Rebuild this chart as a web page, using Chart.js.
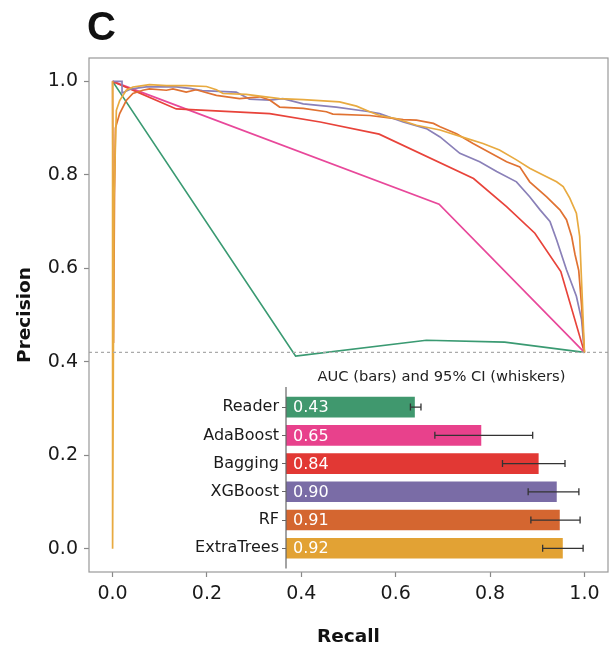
<!DOCTYPE html>
<html>
<head>
<meta charset="utf-8">
<script src="https://cdn.jsdelivr.net/npm/chart.js@4"></script>
<style>
  body { margin: 0; background: #fff; }
  #wrap { position: relative; width: 613px; height: 657px; }
  #prChart { position: absolute; left: 0; top: 0; }
  #aucChart { position: absolute; left: 180px; top: 360px; }
</style>
</head>
<body>
<div id="wrap">
  <canvas id="prChart" width="613" height="657"></canvas>
  <canvas id="aucChart" width="420" height="215"></canvas>
</div>
<script>
const models = ['Reader', 'AdaBoost', 'Bagging', 'XGBoost', 'RF', 'ExtraTrees'];
const aucValues = [0.43, 0.65, 0.84, 0.90, 0.91, 0.92];
const ciLow = [0.412, 0.493, 0.717, 0.802, 0.811, 0.850];
const ciHigh = [0.447, 0.817, 0.924, 0.970, 0.974, 0.984];
const baseline = 0.42;
const xTicks = [0, 0.2, 0.4, 0.6, 0.8, 1.0];
const yTicks = [0, 0.2, 0.4, 0.6, 0.8, 1.0];

const recallReader = [0, 0.388, 0.665, 0.831, 1.0];
const precisionReader = [1.0, 0.412, 0.446, 0.442, 0.42];

const recallAda = [0, 0.692, 1.0];
const precisionAda = [1.0, 0.737, 0.42];

const recallBagging = [0, 0.135, 0.333, 0.44, 0.565, 0.765, 0.835, 0.895, 0.95, 1.0];
const precisionBagging = [1.0, 0.941, 0.931, 0.913, 0.887, 0.792, 0.732, 0.675, 0.593, 0.42];

const recallXgb = [0, 0.02, 0.02, 0.04, 0.071, 0.135, 0.163, 0.19, 0.262, 0.29, 0.333, 0.361, 0.404, 0.474,
  0.545, 0.566, 0.616, 0.665, 0.694, 0.736, 0.778, 0.814, 0.856, 0.884, 0.906, 0.927, 0.941, 0.962, 0.983, 0.994, 1.0];
const precisionXgb = [1.0, 1.0, 0.975, 0.984, 0.988, 0.988, 0.985, 0.98, 0.977, 0.962, 0.96, 0.963, 0.952, 0.945,
  0.935, 0.931, 0.913, 0.899, 0.881, 0.846, 0.828, 0.807, 0.785, 0.753, 0.725, 0.700, 0.661, 0.597, 0.540, 0.490, 0.42];

const recallRf = [0, 0.002, 0.004, 0.006, 0.015, 0.029, 0.043, 0.064, 0.078, 0.114, 0.128, 0.156, 0.177, 0.22, 0.269,
  0.312, 0.333, 0.354, 0.404, 0.453, 0.467, 0.545, 0.616, 0.644, 0.68, 0.694, 0.729, 0.764, 0.835, 0.863, 0.884,
  0.92, 0.948, 0.962, 0.973, 0.98, 0.988, 0.994, 1.0];
const precisionRf = [1.0, 0.44, 0.75, 0.9, 0.931, 0.959, 0.974, 0.981, 0.984, 0.981, 0.984, 0.977, 0.982, 0.97, 0.963,
  0.967, 0.96, 0.945, 0.942, 0.935, 0.93, 0.927, 0.918, 0.917, 0.91, 0.903, 0.888, 0.867, 0.828, 0.817, 0.785,
  0.753, 0.725, 0.704, 0.668, 0.63, 0.595, 0.52, 0.42];

const recallEt = [0, 0, 0.003, 0.008, 0.015, 0.029, 0.043, 0.064, 0.078, 0.114, 0.156, 0.199, 0.22, 0.234, 0.283,
  0.354, 0.404, 0.481, 0.517, 0.545, 0.566, 0.602, 0.644, 0.694, 0.75, 0.785, 0.82, 0.856, 0.884, 0.906, 0.941,
  0.955, 0.969, 0.983, 0.99, 0.995, 1.0];
const precisionEt = [1.0, 0.0, 0.75, 0.938, 0.959, 0.981, 0.988, 0.991, 0.993, 0.991, 0.991, 0.989, 0.982, 0.974, 0.972,
  0.963, 0.961, 0.956, 0.947, 0.935, 0.927, 0.92, 0.906, 0.896, 0.878, 0.867, 0.853, 0.832, 0.814, 0.803, 0.785,
  0.775, 0.75, 0.718, 0.668, 0.547, 0.42];

const lineColors = ['#3a9a72', '#e8489a', '#e8433a', '#8a80b8', '#e07232', '#e8aa40'];
const barColors = ['#40986e', '#e8418c', '#e23834', '#7a6ca6', '#d46630', '#e2a234'];

const curves = [
  [recallReader, precisionReader],
  [recallAda, precisionAda],
  [recallBagging, precisionBagging],
  [recallXgb, precisionXgb],
  [recallRf, precisionRf],
  [recallEt, precisionEt]
];

const tickFont = { family: 'DejaVu Sans', size: 19 };

// frame, baseline, axis titles and panel letter
const prDecor = {
  id: 'prDecor',
  afterDraw(chart) {
    const { ctx, chartArea: a, scales: { y } } = chart;
    ctx.save();
    const yb = y.getPixelForValue(baseline);
    ctx.strokeStyle = '#aaa';
    ctx.lineWidth = 1.2;
    ctx.setLineDash([3, 3]);
    ctx.beginPath();
    ctx.moveTo(a.left, yb);
    ctx.lineTo(a.right, yb);
    ctx.stroke();
    ctx.setLineDash([]);

    ctx.strokeStyle = '#999';
    ctx.lineWidth = 1.2;
    ctx.strokeRect(a.left, a.top, a.right - a.left, a.bottom - a.top);

    ctx.fillStyle = '#111';
    ctx.font = 'bold 18.5px "DejaVu Sans"';
    ctx.textAlign = 'center';
    ctx.textBaseline = 'middle';
    ctx.fillText('Recall', (a.left + a.right) / 2, 637);
    ctx.save();
    ctx.translate(25, (a.top + a.bottom) / 2);
    ctx.rotate(-Math.PI / 2);
    ctx.fillText('Precision', 0, 0);
    ctx.restore();

    ctx.font = 'bold 40px "Liberation Sans"';
    ctx.textAlign = 'left';
    ctx.textBaseline = 'alphabetic';
    ctx.fillText('C', 87, 40);
    ctx.restore();
  }
};

new Chart(document.getElementById('prChart'), {
  type: 'scatter',
  data: {
    datasets: models.map((m, i) => ({
      label: m,
      data: curves[i][0].map((r, j) => ({ x: r, y: curves[i][1][j] })),
      borderColor: lineColors[i],
      backgroundColor: lineColors[i],
      borderWidth: 1.7,
      pointRadius: 0,
      showLine: true,
      tension: 0,
      order: models.length - i
    }))
  },
  options: {
    responsive: false,
    animation: false,
    layout: { padding: { left: 0, top: 58, right: 5, bottom: 0 } },
    plugins: { legend: { display: false }, tooltip: { enabled: false } },
    scales: {
      x: {
        type: 'linear', min: -0.05, max: 1.05,
        afterBuildTicks: s => { s.ticks = xTicks.map(v => ({ value: v })); },
        afterFit: s => { s.height = 85; },
        grid: { drawOnChartArea: false, tickLength: 5, tickColor: '#888', tickWidth: 1.2 },
        border: { display: false },
        ticks: { padding: 6, color: '#1a1a1a', font: tickFont, callback: v => v.toFixed(1) }
      },
      y: {
        type: 'linear', min: -0.05, max: 1.05,
        afterBuildTicks: s => { s.ticks = yTicks.map(v => ({ value: v })); },
        afterFit: s => { s.width = 89; },
        grid: { drawOnChartArea: false, tickLength: 5, tickColor: '#888', tickWidth: 1.2 },
        border: { display: false },
        ticks: { padding: 6, color: '#1a1a1a', font: tickFont, callback: v => v.toFixed(1) }
      }
    }
  },
  plugins: [prDecor]
});

// whiskers, value labels, spine and title of the inset
const aucDecor = {
  id: 'aucDecor',
  afterDatasetsDraw(chart) {
    const { ctx, chartArea: a, scales: { x, y } } = chart;
    ctx.save();
    ctx.strokeStyle = '#666';
    ctx.lineWidth = 1.2;
    ctx.beginPath();
    ctx.moveTo(a.left, a.top - 6);
    ctx.lineTo(a.left, a.bottom + 6);
    ctx.stroke();

    models.forEach((m, i) => {
      const yc = y.getPixelForValue(i);
      const x0 = x.getPixelForValue(ciLow[i]);
      const x1 = x.getPixelForValue(ciHigh[i]);
      ctx.strokeStyle = '#333';
      ctx.lineWidth = 1.3;
      ctx.beginPath();
      ctx.moveTo(x0, yc); ctx.lineTo(x1, yc);
      ctx.moveTo(x0, yc - 3.5); ctx.lineTo(x0, yc + 3.5);
      ctx.moveTo(x1, yc - 3.5); ctx.lineTo(x1, yc + 3.5);
      ctx.stroke();

      ctx.fillStyle = '#fff';
      ctx.font = '16px "DejaVu Sans"';
      ctx.textAlign = 'left';
      ctx.textBaseline = 'middle';
      ctx.fillText(aucValues[i].toFixed(2), x.getPixelForValue(0) + 7, yc + 1);
    });

    ctx.fillStyle = '#222';
    ctx.font = '14.7px "DejaVu Sans"';
    ctx.textAlign = 'center';
    ctx.textBaseline = 'middle';
    ctx.fillText('AUC (bars) and 95% CI (whiskers)', (a.left + a.right) / 2, 17);
    ctx.restore();
  }
};

new Chart(document.getElementById('aucChart'), {
  type: 'bar',
  data: {
    labels: models,
    datasets: [{
      data: aucValues,
      backgroundColor: barColors,
      borderColor: 'rgba(255,255,255,0.6)',
      borderWidth: 1,
      barPercentage: 0.8,
      categoryPercentage: 1.0
    }]
  },
  options: {
    indexAxis: 'y',
    responsive: false,
    animation: false,
    layout: { padding: { left: 0, top: 33, right: 3, bottom: 12.5 } },
    plugins: { legend: { display: false }, tooltip: { enabled: false } },
    scales: {
      x: { display: false, min: 0, max: 1.03 },
      y: {
        type: 'category',
        afterFit: s => { s.width = 106; },
        grid: { offset: false, drawOnChartArea: false, tickLength: 4, tickColor: '#666' },
        border: { display: false },
        ticks: { padding: 3, color: '#1a1a1a', font: { family: 'DejaVu Sans', size: 16 } }
      }
    }
  },
  plugins: [aucDecor]
});
</script>
</body>
</html>
